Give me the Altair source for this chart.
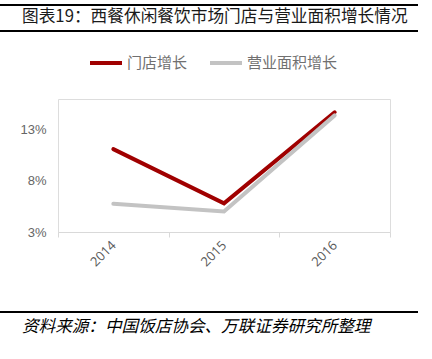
import altair as alt
import pandas as pd

years = ["2014", "2015", "2016"]
store_growth = [0.111, 0.058, 0.147]
area_growth = [0.0575, 0.050, 0.144]
series_names = ["门店增长", "营业面积增长"]
colors = ["#A00000", "#C3C3C3"]
y_ticks = [0.03, 0.08, 0.13]

title_text = "图表19：西餐休闲餐饮市场门店与营业面积增长情况"
source_text = "资料来源：中国饭店协会、万联证券研究所整理"

rows = []
for name, vals in zip(series_names, [store_growth, area_growth]):
    for yr, v in zip(years, vals):
        rows.append({"year": yr, "series": name, "value": v})
df = pd.DataFrame(rows)

one = pd.DataFrame({"k": [0]})

lines = alt.Chart(df).mark_line(strokeWidth=4, strokeCap="round").encode(
    x=alt.X("year:N", sort=years,
            scale=alt.Scale(paddingInner=0, paddingOuter=0),
            axis=alt.Axis(title=None, labelAngle=-45, labelAlign="right",
                          labelBaseline="middle", labelFontSize=13,
                          labelFont="Open Sans", labelColor="#595959",
                          labelPadding=6,
                          domainColor="#D9D9D9", tickColor="#D9D9D9",
                          tickSize=5, tickBand="extent", domainWidth=1)),
    y=alt.Y("value:Q",
            scale=alt.Scale(domain=[0.03, 0.16], nice=False, zero=False),
            axis=alt.Axis(title=None, values=y_ticks, format=".0%",
                          domain=False, ticks=False, grid=False,
                          labelFontSize=13, labelFont="Liberation Sans",
                          labelColor="#666666", labelPadding=12)),
    color=alt.Color("series:N",
                    scale=alt.Scale(domain=series_names, range=colors),
                    legend=alt.Legend(title=None, orient="none",
                                      direction="horizontal",
                                      legendX=30, legendY=-54,
                                      symbolType="stroke",
                                      symbolSize=1024,
                                      symbolStrokeWidth=4,
                                      labelFontSize=15,
                                      labelFont="Noto Sans CJK SC",
                                      labelColor="#707070",
                                      labelOffset=3,
                                      columnPadding=14)),
    order=alt.Order("series:N", sort="descending"),
)

top_rule1 = alt.Chart(one).mark_rule(color="#000000", strokeWidth=2).encode(
    x=alt.value(-58), x2=alt.value(360), y=alt.value(-94))
top_rule2 = alt.Chart(one).mark_rule(color="#000000", strokeWidth=2).encode(
    x=alt.value(-58), x2=alt.value(360), y=alt.value(-68))
bottom_rule = alt.Chart(one).mark_rule(color="#000000", strokeWidth=2).encode(
    x=alt.value(-58), x2=alt.value(360), y=alt.value(213))

title = alt.Chart(one).mark_text(
    align="left", baseline="middle", fontSize=16.7, font="Noto Sans CJK SC",
    color="#1a1a1a").encode(
    x=alt.value(-36), y=alt.value(-82), text=alt.value(title_text))

source = alt.Chart(one).mark_text(
    align="left", baseline="middle", fontSize=16.6, font="Noto Sans CJK SC",
    fontStyle="italic", color="#000000").encode(
    x=alt.value(-36), y=alt.value(228), text=alt.value(source_text))

chart = alt.layer(lines, top_rule1, top_rule2, bottom_rule, title, source).properties(
    width=332, height=133,
    autosize=alt.AutoSizeParams(type="none"),
    padding={"left": 58, "top": 99, "right": 42, "bottom": 127},
).configure_view(stroke=None).configure(background="white")

chart.save("out.html", embed_options={"renderer": "svg", "actions": False})
